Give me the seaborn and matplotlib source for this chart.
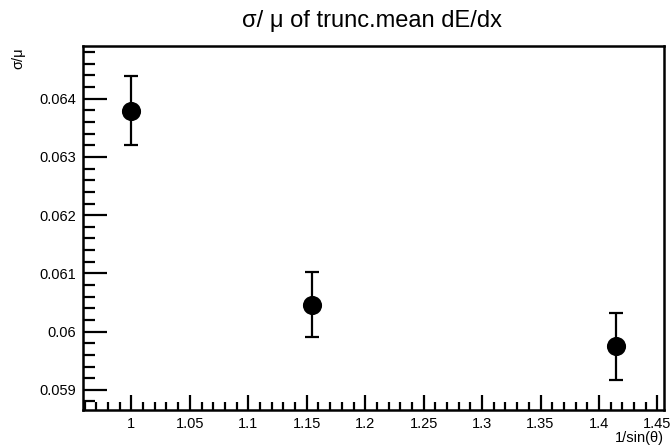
import matplotlib
matplotlib.use("Agg")
import matplotlib.pyplot as plt
from matplotlib.ticker import MultipleLocator, FixedLocator
import seaborn as sns
import pandas as pd

# 1/sin(theta) for theta = 90, 60, 45 degrees
inv_sin_theta = [1.0, 1.1547, 1.4142]
sigma_over_mu = [0.063795, 0.060465, 0.059745]
sigma_err = [0.000590, 0.000555, 0.000570]
x_tick_values = [1, 1.05, 1.1, 1.15, 1.2, 1.25, 1.3, 1.35, 1.4, 1.45]
x_tick_labels = ["1", "1.05", "1.1", "1.15", "1.2", "1.25", "1.3", "1.35", "1.4", "1.45"]
y_tick_values = [0.059, 0.060, 0.061, 0.062, 0.063, 0.064]
y_tick_labels = ["0.059", "0.06", "0.061", "0.062", "0.063", "0.064"]

df = pd.DataFrame({"x": inv_sin_theta, "y": sigma_over_mu, "err": sigma_err})

sns.set_theme(style="ticks")
plt.rcParams["font.family"] = ["Liberation Sans", "DejaVu Sans"]
plt.rcParams["text.color"] = "black"
plt.rcParams["xtick.color"] = "black"
plt.rcParams["ytick.color"] = "black"
plt.rcParams["xtick.labelcolor"] = "black"
plt.rcParams["ytick.labelcolor"] = "black"

fig = plt.figure(figsize=(6.72, 4.48), dpi=100)
ax = fig.add_axes([83 / 672, 1 - 410 / 448, (664 - 83) / 672, (410 - 46) / 448])

ax.errorbar(df["x"], df["y"], yerr=df["err"], fmt="none", ecolor="black",
            elinewidth=1.6, capsize=5, capthick=1.6, zorder=2)
sns.scatterplot(data=df, x="x", y="y", ax=ax, s=190, color="black",
                edgecolor="black", linewidth=0, zorder=3, legend=False)

# axis ranges with 10% padding around the data (including errors)
xmin, xmax = min(inv_sin_theta), max(inv_sin_theta)
xpad = 0.1 * (xmax - xmin)
ax.set_xlim(xmin - xpad, xmax + xpad)
lo = min(y - e for y, e in zip(sigma_over_mu, sigma_err))
hi = max(y + e for y, e in zip(sigma_over_mu, sigma_err))
ypad = 0.1 * (hi - lo)
ax.set_ylim(lo - ypad, hi + ypad)

ax.xaxis.set_major_locator(FixedLocator(x_tick_values))
ax.set_xticklabels(x_tick_labels)
ax.xaxis.set_minor_locator(MultipleLocator(0.01))
ax.yaxis.set_major_locator(FixedLocator(y_tick_values))
ax.set_yticklabels(y_tick_labels)
ax.yaxis.set_minor_locator(MultipleLocator(0.0002))

ax.tick_params(axis="x", which="major", direction="in", length=11, width=1.6,
               labelsize=10.5, pad=5, top=False)
ax.tick_params(axis="x", which="minor", direction="in", length=5.5, width=1.6, top=False)
ax.tick_params(axis="y", which="major", direction="in", length=17, width=1.6,
               labelsize=10.5, pad=5, right=False)
ax.tick_params(axis="y", which="minor", direction="in", length=8.5, width=1.6, right=False)

for sp in ax.spines.values():
    sp.set_visible(True)
    sp.set_linewidth(1.8)
    sp.set_color("black")

ax.set_xlabel("")
ax.set_ylabel("")
fig.text(664 / 672, 1 - 438 / 448, "1/sin(θ)", ha="right", va="center", fontsize=10.5)
fig.text(18 / 672, 1 - 47 / 448, "σ/μ", ha="center", va="top", rotation=90, fontsize=10.5)
fig.text(372 / 672, 1 - 21 / 448, "σ/ μ of trunc.mean dE/dx", ha="center",
         va="center", fontsize=17)

fig.savefig("out.png", dpi=100)
